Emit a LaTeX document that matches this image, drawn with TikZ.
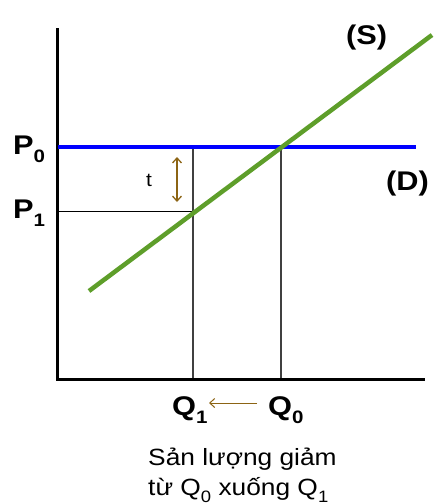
\documentclass[tikz,border=0pt]{standalone}
\usepackage{fontspec}
\setmainfont{Liberation Sans}
\usetikzlibrary{arrows.meta}
\definecolor{supgreen}{RGB}{94,158,42}
\definecolor{taxbrown}{RGB}{140,100,20}
\newcommand{\lowidx}[2]{\raisebox{-0.3em}{\fontsize{#1}{#1}\selectfont #2}}
\newcommand{\widetxt}[2]{\scalebox{#1}[1]{#2}}
\tikzset{
  axis/.style={black, line width=3pt},
  dline/.style={blue, line width=4pt},            % demand (D)
  sline/.style={supgreen, line width=4.5pt},      % supply (S)
  guide/.style={black!75, line width=1.2pt},      % drop lines to the axes
  taxarrow/.style={taxbrown, line width=1.3pt, {Straight Barb[length=5pt,width=9pt]}-{Straight Barb[length=5pt,width=9pt]}},
  qarrow/.style={taxbrown, line width=1pt, -{Straight Barb[length=5pt,width=9pt]}},
  biglab/.style={font=\fontsize{27}{27}\selectfont\bfseries, inner sep=0pt, anchor=base west},
  captxt/.style={font=\fontsize{23.5}{23.5}\selectfont, inner sep=0pt, anchor=base west},
}

\begin{document}
\begin{tikzpicture}[x=1pt, y=-1pt]
  \useasboundingbox (0,0) rectangle (436,504);
  % picture measured in px, y running downwards

  % --- key points ---
  \coordinate (O)  at (57,379);
  \coordinate (Ytop) at (57,28);
  \coordinate (Xend) at (425,379);
  \coordinate (D0) at (58,147);
  \coordinate (D1) at (416,147);
  \coordinate (S0) at (89,291);
  \coordinate (S1) at (432,35);
  \coordinate (E0) at (281,147);   % P0 on (S)
  \coordinate (E1) at (193,211);   % P1 on (S)
  \coordinate (T1) at (193,147);
  \coordinate (P1a) at (57,211);
  \coordinate (Q1a) at (193,379);
  \coordinate (Q0a) at (281,379);

  % --- drop lines ---
  \draw[guide] (T1) -- (Q1a);
  \draw[guide] (E0) -- (Q0a);
  \draw[black, line width=1pt] (P1a) -- (E1);

  % --- axes ---
  \draw[axis] (Ytop) -- (O) -- (Xend);

  % --- demand and supply ---
  \draw[dline] (D0) -- (D1);
  \draw[sline] (S0) -- (S1);

  % --- labels ---
  \node[biglab] (p0) at (13,154) {\widetxt{1.14}{P\lowidx{18}{0}}};
  \node[biglab] (p1) at (13,218) {\widetxt{1.14}{P\lowidx{18}{1}}};
  \node[biglab] (s)  at (346,44) {\widetxt{1.14}{(S)}};
  \node[biglab] (d)  at (386,190) {\widetxt{1.14}{(D)}};
  \node[biglab] (q1) at (172,415) {\widetxt{1.14}{Q\lowidx{18}{1}}};
  \node[biglab] (q0) at (268,415) {\widetxt{1.14}{Q\lowidx{18}{0}}};
  \node[font=\fontsize{19}{19}\selectfont, inner sep=0pt, anchor=base west] (t) at (146,186) {\widetxt{1.1}{t}};

  % --- tax wedge and fall in output ---
  \coordinate (tA) at (177,157);
  \coordinate (tB) at (177,202);
  \draw[taxarrow] (tA) -- (tB);
  \coordinate (qA) at (257,403);
  \coordinate (qB) at (209,403);
  \draw[qarrow] (qA) -- (qB);

  % --- caption ---
  \node[captxt] (cap1) at (148,465) {\widetxt{1.12}{Sản lượng giảm}};
  \node[captxt] (cap2) at (148,495) {\widetxt{1.12}{từ Q\lowidx{16.5}{0} xuống Q\lowidx{16.5}{1}}};
\end{tikzpicture}
\end{document}
